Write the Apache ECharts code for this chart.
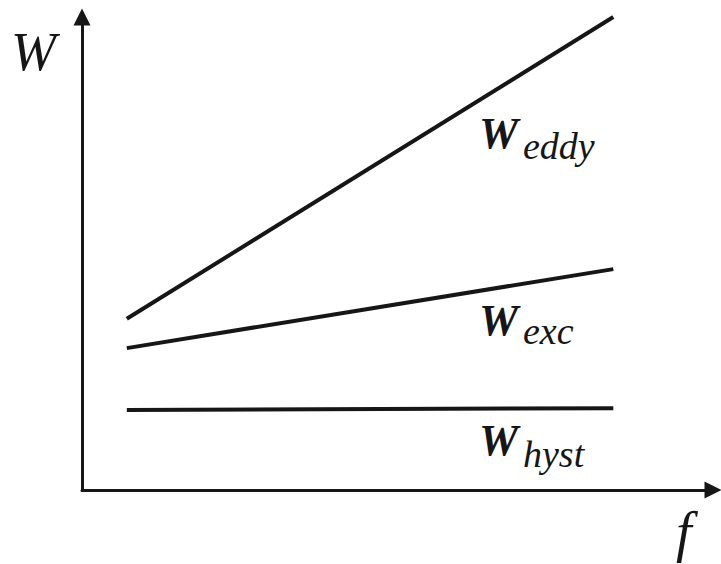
<!DOCTYPE html>
<html><head><meta charset="utf-8">
<script src="https://cdn.jsdelivr.net/npm/echarts@6/dist/echarts.min.js"></script>
<style>html,body{margin:0;padding:0;background:#fff}#c{width:721px;height:564px}</style>
</head><body>
<div id="c"></div>
<script>
const xValues = [7.1, 84.2];
const eddy = [36.2, 100];
const exc = [30.0, 46.7];
const hyst = [16.9, 17.3];
const seriesNames = ['eddy', 'exc', 'hyst'];

const chart = echarts.init(document.getElementById('c'), null, {renderer: 'svg'});
const lineStyle = {color: '#161616', width: 4};
function mk(name, ys) {
  return {name, type: 'line', data: xValues.map((x, i) => [x, ys[i]]), showSymbol: false, symbol: 'none',
    lineStyle, silent: true, animation: false};
}
function txt(t, x, y, size, bold) {
  return {type: 'text', x: x, y: y, style: {text: t, fontFamily: '"Liberation Serif", "Times New Roman", serif', fontSize: size, fontStyle: 'italic',
    fontWeight: bold ? 'bold' : 'normal', fill: '#161616', verticalAlign: 'middle'}};
}
function sub(main, subtxt, x, y, sy) {
  return [txt(main, x, y, 44, true), txt(subtxt, x + 44, sy, 38, false)];
}
chart.setOption({
  animation: false,
  grid: {left: 82, right: 8, top: 17, bottom: 74},
  xAxis: {type: 'value', min: 0, max: 100,
    axisLine: {show: true, lineStyle: {color: '#161616', width: 3}, symbol: ['none', 'triangle'], symbolSize: [17, 17]},
    axisTick: {show: false}, axisLabel: {show: false}, splitLine: {show: false}},
  yAxis: {type: 'value', min: 0, max: 100,
    axisLine: {show: true, lineStyle: {color: '#161616', width: 3}, symbol: ['none', 'triangle'], symbolSize: [17, 17]},
    axisTick: {show: false}, axisLabel: {show: false}, splitLine: {show: false}},
  series: [mk(seriesNames[0], eddy), mk(seriesNames[1], exc), mk(seriesNames[2], hyst)],
  graphic: [
    txt('W', 11, 52, 54, false),
    txt('f', 676, 532, 56, false),
    ...sub('W', 'eddy', 479, 133, 146),
    ...sub('W', 'exc', 479, 320, 331),
    ...sub('W', 'hyst', 479, 440, 454)
  ]
});
</script></body></html>
